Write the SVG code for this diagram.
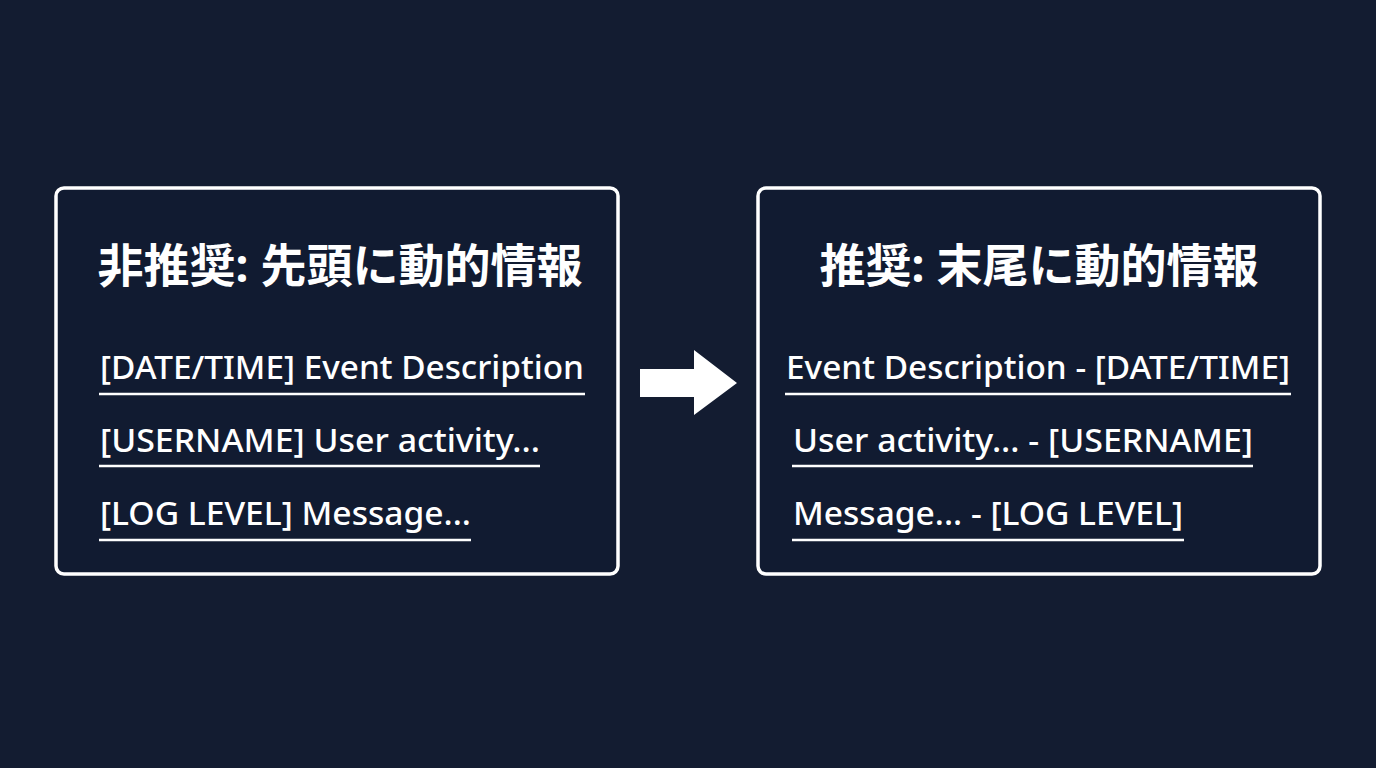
<svg xmlns="http://www.w3.org/2000/svg" width="1376" height="768" viewBox="0 0 1376 768">
<style>
.box{fill:#111b31;stroke:#fff;stroke-width:3.5}
.t{fill:#fff;font-family:"Noto Sans","Noto Sans CJK JP",sans-serif;font-weight:bold;font-size:46px;text-anchor:middle}
.l{fill:#fff;font-family:"Noto Sans","Open Sans",sans-serif;font-size:33px;font-weight:500}
.u{stroke:#fff;stroke-width:2.5}
</style>
<rect width="1376" height="768" fill="#131c31"/>
<g id="left">
<rect class="box" x="56" y="188" width="562" height="386" rx="8"/>
<text class="t" x="340" y="282">非推奨: 先頭に動的情報</text>
<text class="l" x="100" y="379" textLength="484" lengthAdjust="spacingAndGlyphs">[DATE/TIME] Event Description</text>
<line class="u" x1="99" y1="394" x2="585" y2="394"/>
<text class="l" x="100" y="452" textLength="440" lengthAdjust="spacingAndGlyphs">[USERNAME] User activity...</text>
<line class="u" x1="99" y1="466" x2="540" y2="466"/>
<text class="l" x="100" y="525" textLength="371" lengthAdjust="spacingAndGlyphs">[LOG LEVEL] Message...</text>
<line class="u" x1="99" y1="540" x2="471" y2="540"/>
</g>
<g id="right">
<rect class="box" x="758" y="188" width="562" height="386" rx="8"/>
<text class="t" x="1039" y="282">推奨: 末尾に動的情報</text>
<text class="l" x="786" y="379" textLength="504" lengthAdjust="spacingAndGlyphs">Event Description - [DATE/TIME]</text>
<line class="u" x1="785" y1="394" x2="1291" y2="394"/>
<text class="l" x="793" y="452" textLength="460" lengthAdjust="spacingAndGlyphs">User activity... - [USERNAME]</text>
<line class="u" x1="792" y1="466" x2="1253" y2="466"/>
<text class="l" x="793" y="525" textLength="390" lengthAdjust="spacingAndGlyphs">Message... - [LOG LEVEL]</text>
<line class="u" x1="792" y1="540" x2="1184" y2="540"/>
</g>
<g id="connectors">
<polygon fill="#fff" points="640,369 694,369 694,350 737,383 694,415 694,397 640,397"/>
</g>
</svg>
